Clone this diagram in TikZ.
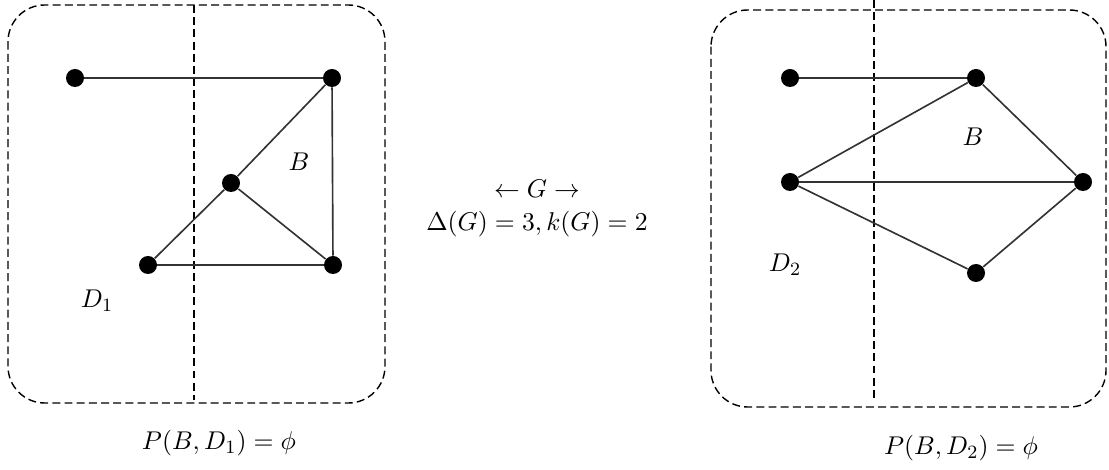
\documentclass[tikz,border=0pt]{standalone}
\usetikzlibrary{positioning}

\tikzset{
  dot/.style={circle, fill=black, inner sep=0pt, minimum size=2.7mm},
  edge/.style={line width=0.7pt, black!80},
  region/.style={dash pattern=on 3.4pt off 1.8pt, line width=0.6pt, rounded corners=0.55cm},
  cut/.style={dash pattern=on 3.4pt off 1.8pt, line width=0.6pt},
  every node/.append style={font=\fontsize{11}{13}\selectfont}
}

\begin{document}
\begin{tikzpicture}[x=0.015cm, y=-0.015cm]
  \useasboundingbox (0,0) rectangle (1109,470);

  % 左图：D_1
  \begin{scope}
    \draw[region] (8,5) rectangle (385,403);
    \draw[cut] (194,5) -- (194,400);
    \node[dot] (l1) at (75,78) {};
    \node[dot] (l2) at (332,78) {};
    \node[dot] (l3) at (231,183) {};
    \node[dot] (l4) at (148,265) {};
    \node[dot] (l5) at (333,265) {};
    \draw[edge] (l1) -- (l2);
    \draw[edge] (l2) -- (l5);
    \draw[edge] (l2) -- (l3);
    \draw[edge] (l3) -- (l4);
    \draw[edge] (l3) -- (l5);
    \draw[edge] (l4) -- (l5);
    \node (lB) at (299,162) {$B$};
    \node (lD) at (97,301) {$D_1$};
    \node (lcap) at (219,443) {$P(B,D_1)=\phi$};
  \end{scope}

  % 中间：G
  \node (garrow) at (537,189) {$\leftarrow G\rightarrow$};
  \node[below=-0.5mm of garrow] (gdeg) {$\Delta(G)=3, k(G)=2$};

  % 右图：D_2
  \begin{scope}
    \draw[region] (711,10) rectangle (1106,407);
    \draw[cut] (874,0) -- (874,400);
    \node[dot] (r1) at (790,78) {};
    \node[dot] (r2) at (976,78) {};
    \node[dot] (r3) at (790,182) {};
    \node[dot] (r4) at (1083,182) {};
    \node[dot] (r5) at (976,273) {};
    \draw[edge] (r1) -- (r2);
    \draw[edge] (r2) -- (r3);
    \draw[edge] (r2) -- (r4);
    \draw[edge] (r3) -- (r4);
    \draw[edge] (r3) -- (r5);
    \draw[edge] (r4) -- (r5);
    \node (rB) at (973,137) {$B$};
    \node (rD) at (785,265) {$D_2$};
    \node (rcap) at (961,448) {$P(B,D_2)=\phi$};
  \end{scope}
\end{tikzpicture}
\end{document}
